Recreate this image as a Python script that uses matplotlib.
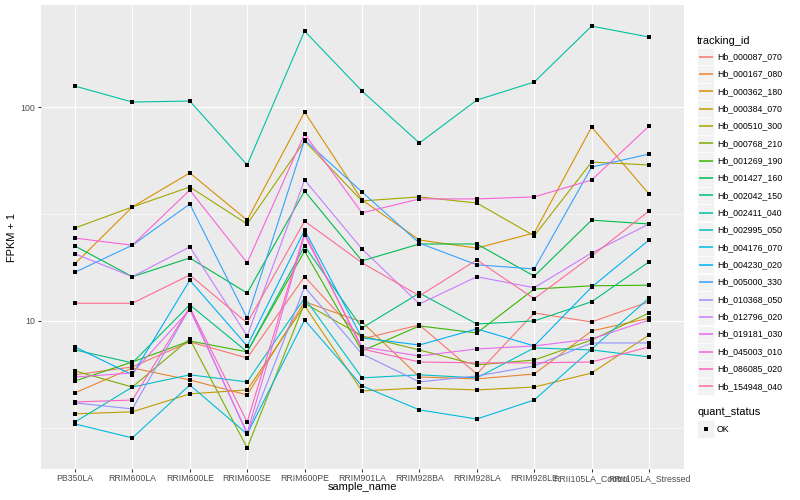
import matplotlib
matplotlib.use("Agg")
import matplotlib.pyplot as plt
from matplotlib.patches import Rectangle
from matplotlib.lines import Line2D
from matplotlib.ticker import FixedLocator, NullFormatter, FixedFormatter
import numpy as np

plt.rcParams['font.family'] = ['Liberation Sans', 'DejaVu Sans']

samples = ["PB350LA", "RRIM600LA", "RRIM600LE", "RRIM600SE", "RRIM600PE",
           "RRIM901LA", "RRIM928BA", "RRIM928LA", "RRIM928LE",
           "RRII105LA_Control", "RRII105LA_Stressed"]

tracking_ids = ["Hb_000087_070", "Hb_000167_080", "Hb_000362_180", "Hb_000384_070",
                "Hb_000510_300", "Hb_000768_210", "Hb_001269_190", "Hb_001427_160",
                "Hb_002042_150", "Hb_002411_040", "Hb_002995_050", "Hb_004176_070",
                "Hb_004230_020", "Hb_005000_330", "Hb_010368_050", "Hb_012796_020",
                "Hb_019181_030", "Hb_045003_010", "Hb_086085_020", "Hb_154948_040"]

colors = ["#F8766D", "#EA8331", "#D89000", "#C09B00", "#A3A500", "#7CAE00", "#39B600",
          "#00BB4E", "#00BF7D", "#00C1A3", "#00BFC4", "#00BAE0", "#00B0F6", "#35A2FF",
          "#9590FF", "#C77CFF", "#E76BF3", "#FA62DB", "#FF62BC", "#FF6C91"]

# FPKM + 1 per sample (order of `samples`)
Hb_000087_070 = [5.60, 6.10, 7.98, 6.72, 16.1, 8.24, 9.58, 5.65, 10.9, 9.89, 12.3]
Hb_000167_080 = [4.61, 6.03, 5.30, 4.51, 12.3, 9.89, 5.47, 5.36, 5.65, 8.98, 10.3]
Hb_000362_180 = [18.5, 34.1, 49.2, 29.6, 94.8, 36.8, 23.9, 21.9, 25.8, 80.6, 39.2]
Hb_000384_070 = [3.68, 3.76, 4.56, 4.76, 11.8, 4.71, 4.86, 4.76, 4.91, 5.71, 8.60]
Hb_000510_300 = [27.2, 34.1, 42.3, 28.4, 69.4, 36.4, 38.0, 35.6, 25.0, 55.3, 53.6]
Hb_000768_210 = [5.84, 4.91, 8.24, 2.55, 12.1, 8.51, 7.32, 6.23, 6.57, 8.15, 10.9]
Hb_001269_190 = [5.24, 6.43, 8.06, 7.17, 21.2, 7.24, 9.48, 8.79, 14.1, 14.6, 14.7]
Hb_001427_160 = [22.4, 16.1, 19.7, 13.5, 40.5, 19.1, 22.9, 22.9, 16.2, 29.6, 28.4]
Hb_002042_150 = [7.32, 6.37, 11.9, 7.17, 22.4, 9.27, 13.5, 9.68, 10.0, 12.3, 18.9]
Hb_002411_040 = [125.3, 105.5, 106.7, 53.6, 226.5, 118.8, 67.9, 107.8, 130.9, 239.0, 212.4]
Hb_002995_050 = [3.37, 4.91, 5.60, 5.19, 12.8, 5.42, 5.60, 5.42, 7.48, 7.32, 6.79]
Hb_004176_070 = [3.30, 2.84, 5.02, 2.96, 10.1, 4.97, 3.84, 3.48, 4.27, 7.40, 12.8]
Hb_004230_020 = [7.56, 5.60, 15.5, 7.64, 26.6, 8.33, 7.72, 9.18, 7.64, 14.4, 23.9]
Hb_005000_330 = [16.9, 22.6, 35.2, 10.3, 70.1, 40.1, 23.1, 18.3, 17.5, 52.4, 60.3]
Hb_010368_050 = [4.14, 3.88, 11.5, 2.96, 14.4, 7.01, 5.19, 5.53, 6.16, 7.89, 7.89]
Hb_012796_020 = [20.6, 16.1, 22.2, 8.51, 45.6, 21.7, 12.0, 16.1, 14.3, 20.8, 28.4]
Hb_019181_030 = [5.47, 5.71, 11.3, 3.00, 25.2, 7.56, 6.86, 7.40, 7.64, 8.24, 10.1]
Hb_045003_010 = [24.4, 22.6, 40.9, 18.7, 74.8, 32.0, 37.2, 37.2, 38.0, 45.6, 81.5]
Hb_086085_020 = [4.18, 4.27, 11.6, 3.37, 25.8, 7.40, 6.43, 6.37, 6.37, 6.43, 7.56]
Hb_154948_040 = [12.1, 12.1, 16.4, 9.79, 29.3, 18.7, 13.1, 19.3, 12.7, 20.1, 32.7]

series = [Hb_000087_070, Hb_000167_080, Hb_000362_180, Hb_000384_070, Hb_000510_300,
          Hb_000768_210, Hb_001269_190, Hb_001427_160, Hb_002042_150, Hb_002411_040,
          Hb_002995_050, Hb_004176_070, Hb_004230_020, Hb_005000_330, Hb_010368_050,
          Hb_012796_020, Hb_019181_030, Hb_045003_010, Hb_086085_020, Hb_154948_040]

quant_status = ["OK"]

W, H = 800, 500
fig = plt.figure(figsize=(8, 5), dpi=100)

def fx(x):
    return x / W

def fy(y):
    return 1 - y / H

pl, pr, pt, pb = 40.5, 683.5, 5, 469
ax = fig.add_axes([fx(pl), fy(pb), fx(pr - pl), (pb - pt) / H])
ax.set_facecolor("#EBEBEB")
for s in ax.spines.values():
    s.set_visible(False)

xs = np.arange(len(samples))
LW = 0.8
for vals, col in zip(series, colors):
    ax.plot(xs, vals, color=col, lw=LW, zorder=3, solid_capstyle='butt')
for vals in series:
    ax.plot(xs, vals, linestyle='none', marker='s', ms=2.2, color='black',
            mec='black', mew=0, zorder=4)

ax.set_yscale('log')
allv = np.log10(np.concatenate([np.array(v) for v in series]))
lo, hi = allv.min(), allv.max()
pad = 0.05 * (hi - lo)
ax.set_ylim(10 ** (lo - pad), 10 ** (hi + pad))
ax.set_xlim(-0.6, len(samples) - 1 + 0.6)

ax.yaxis.set_major_locator(FixedLocator([10, 100]))
ax.yaxis.set_major_formatter(FixedFormatter(["10", "100"]))
ax.yaxis.set_minor_locator(FixedLocator([10 ** 0.5, 10 ** 1.5]))
ax.yaxis.set_minor_formatter(NullFormatter())
ax.set_xticks(xs)
ax.set_xticklabels(samples)

ax.grid(which='major', color='white', lw=0.8, zorder=1)
ax.grid(which='minor', axis='y', color='white', lw=0.4, zorder=1)
ax.set_axisbelow(True)

ax.tick_params(which='major', length=2.0, width=0.75, color='#333333',
               labelsize=6.34, labelcolor='#4D4D4D', pad=1.6)
ax.tick_params(which='minor', length=0)

fig.text(fx((pl + pr) / 2), fy(487), "sample_name", ha='center', va='center',
         fontsize=7.92, color='black')
fig.text(fx(12), fy((pt + pb) / 2), "FPKM + 1", ha='center', va='center',
         rotation=90, fontsize=7.92, color='black')

# legend: tracking_id
kx, kw = 697, 17.2
fig.text(fx(kx), fy(40.5), "tracking_id", ha='left', va='center', fontsize=7.92)
y0, dy = 56.6, 17.35
for i, (tid, col) in enumerate(zip(tracking_ids, colors)):
    yc = y0 + i * dy
    fig.add_artist(Rectangle((fx(kx), fy(yc + kw / 2)), kw / W, kw / H,
                             transform=fig.transFigure, facecolor='#F2F2F2',
                             edgecolor='white', lw=0.5, zorder=1))
    fig.add_artist(Line2D([fx(kx + 1.7), fx(kx + kw - 1.7)], [fy(yc), fy(yc)],
                          transform=fig.transFigure, color=col, lw=1.1,
                          solid_capstyle='butt', zorder=5))
    fig.text(fx(717), fy(yc), tid, ha='left', va='center', fontsize=6.34)

# legend: quant_status
fig.text(fx(kx), fy(412), "quant_status", ha='left', va='center', fontsize=7.92)
yc = 429
fig.add_artist(Rectangle((fx(kx), fy(yc + kw / 2)), kw / W, kw / H,
                         transform=fig.transFigure, facecolor='#F2F2F2',
                         edgecolor='white', lw=0.5, zorder=1))
fig.add_artist(Line2D([fx(kx + kw / 2)], [fy(yc)], transform=fig.transFigure,
                      marker='s', ms=2.4, color='black', mew=0, linestyle='none',
                      zorder=5))
fig.text(fx(717), fy(yc), quant_status[0], ha='left', va='center', fontsize=6.34)

fig.savefig("out.png", dpi=100, facecolor='white')
